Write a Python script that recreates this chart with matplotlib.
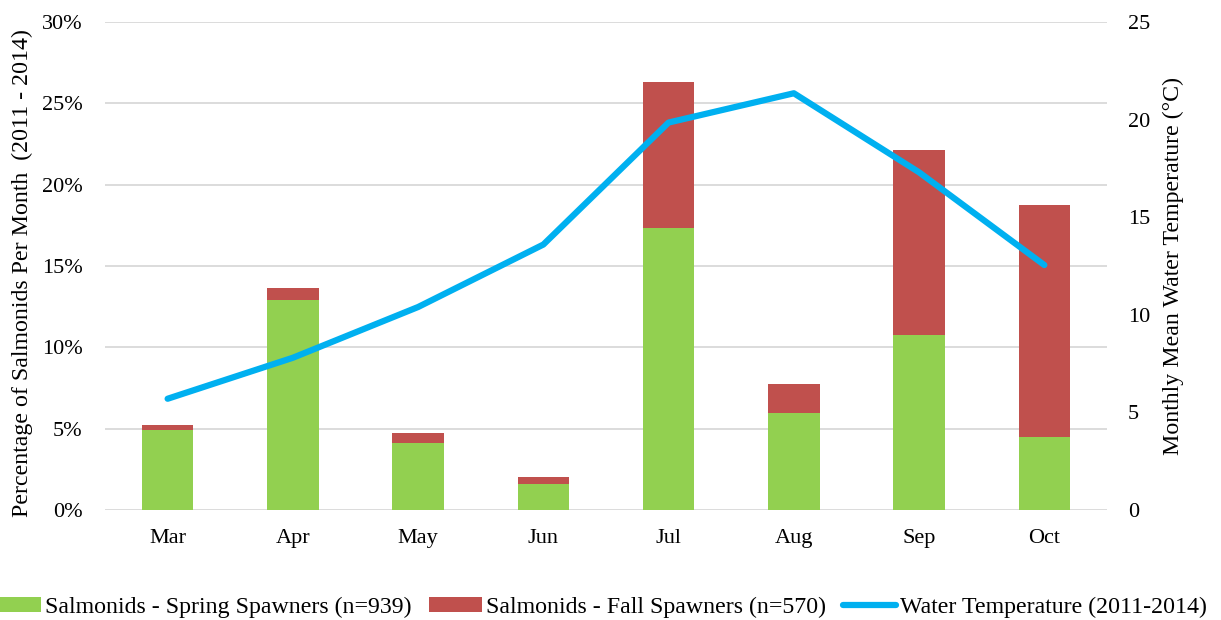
import matplotlib.pyplot as plt
import numpy as np
from matplotlib.ticker import PercentFormatter

plt.rcParams['font.family'] = ['Liberation Serif', 'DejaVu Serif']

# data
months = ['Mar', 'Apr', 'May', 'Jun', 'Jul', 'Aug', 'Sep', 'Oct']
spring = [4.9, 12.9, 4.1, 1.6, 17.35, 5.95, 10.75, 4.5]     # % of salmonids
fall = [0.3, 0.75, 0.65, 0.4, 8.95, 1.8, 11.4, 14.25]
water_temp = [5.7, 7.8, 10.4, 13.6, 19.85, 21.35, 17.3, 12.55]

green = '#92D050'
red = '#C0504D'
blue = '#00B0F0'

fig = plt.figure(figsize=(12.21, 6.2), dpi=100)
ax = fig.add_axes([0.086, 0.1774, 0.8206, 0.7871])
ax2 = ax.twinx()

x = np.arange(len(months))
b1 = ax.bar(x, spring, width=0.41, color=green, zorder=2,
            label='Salmonids - Spring Spawners (n=939)')
b2 = ax.bar(x, fall, width=0.41, bottom=spring, color=red, zorder=2,
            label='Salmonids - Fall Spawners (n=570)')
l1, = ax2.plot(x, water_temp, color=blue, lw=4.5, solid_capstyle='round',
               label='Water Temperature (2011-2014)')

ax.set_xlim(-0.5, len(months) - 0.5)
ax.set_ylim(0, 30)
ax.set_yticks(np.arange(0, 31, 5))
ax.yaxis.set_major_formatter(PercentFormatter(decimals=0))
ax2.set_ylim(0, 25)
ax2.set_yticks(np.arange(0, 26, 5))
ax.set_xticks(x)
ax.set_xticklabels(months)

ax.grid(axis='y', color='#D9D9D9', lw=1.3, zorder=0)
ax.set_axisbelow(True)
for a in (ax, ax2):
    for s in a.spines.values():
        s.set_visible(False)
    a.tick_params(length=0, labelsize=16, colors='black')
ax.tick_params(axis='x', pad=14)
ax.tick_params(axis='y', pad=16)
ax2.tick_params(axis='y', pad=15)

ax.set_ylabel('Percentage of Salmonids Per Month  (2011 - 2014)', fontsize=17.2)
ax.yaxis.set_label_coords(-0.072, 0.486)
ax2.set_ylabel('Monthly Mean Water Temperature (°C)', fontsize=17.2, labelpad=9)

fig.legend(handles=[b1, b2, l1], loc='center', ncol=3, frameon=False,
           fontsize=17.2, bbox_to_anchor=(0.4895, 0.021), handlelength=2.22,
           handleheight=0.59, handletextpad=0.17, columnspacing=0.71)

fig.savefig('out.png', dpi=100)
